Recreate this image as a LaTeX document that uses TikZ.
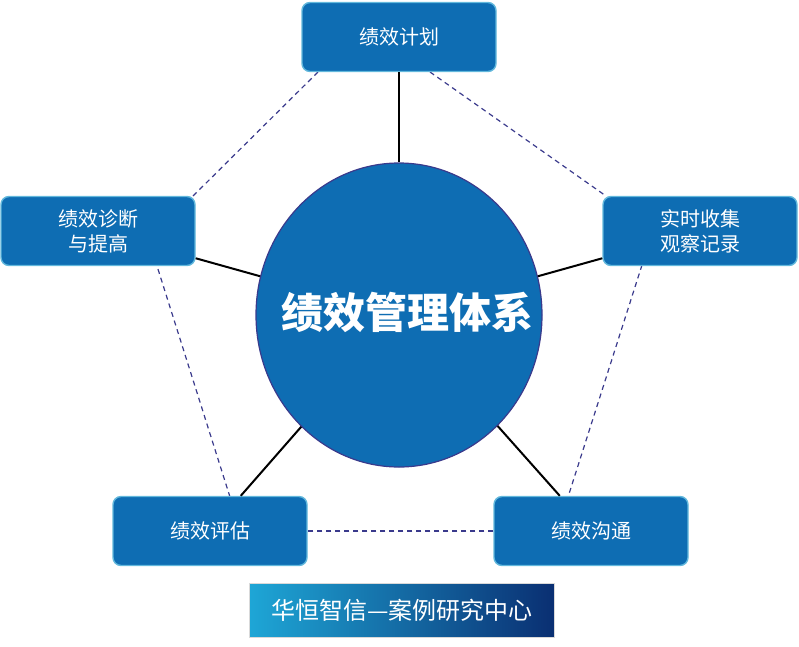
\documentclass[tikz,border=0pt]{standalone}
\usepackage{fontspec}
\newfontfamily\cjk{Noto Sans CJK SC}
\usetikzlibrary{shapes.geometric}
\definecolor{boxblue}{HTML}{0E6DB3}
\definecolor{boxedge}{HTML}{62B8DC}
\definecolor{dashc}{HTML}{3A3A8C}
\definecolor{banL}{HTML}{1EA6D6}
\definecolor{banR}{HTML}{0A2F72}
\begin{document}
\begin{tikzpicture}[x=1pt,y=-1pt,
 box/.style={draw=boxedge,line width=1.4pt,fill=boxblue,rounded corners=8pt,minimum width=194pt,minimum height=69pt,text=white,font=\cjk\fontsize{20}{25}\selectfont,align=center},
 spoke/.style={line width=2pt,black},
 dashline/.style={dash pattern=on 5pt off 4pt,dashc,line width=1.2pt}]
\useasboundingbox (0,0) rectangle (799,646);
\coordinate (p1) at (430,72);
\coordinate (p2) at (318,72);
\coordinate (s1) at (642,265);
\coordinate (g1) at (568,497);
\coordinate (e1) at (230,497);
\coordinate (d1) at (157,266);
\coordinate (d2) at (193,196);
\coordinate (s2) at (606,196);
\draw[dashline] (p1) -- (s2);
\draw[dashline] (p2) -- (d2);
\draw[dashline] (s1) -- (g1);
\draw[dashline] (e1) -- (d1);
\node[ellipse,draw=dashc,line width=1.2pt,fill=boxblue,inner sep=0pt,minimum width=286pt,minimum height=304pt] (c) at (399,315) {};
\node[text=white,font=\cjk\bfseries\fontsize{42}{48}\selectfont] (ct) at (407,312) {绩效管理体系};
\node[box] (p) at (399,37) {绩效计划};
\node[box] (s) at (700,231) {实时收集\\观察记录};
\node[box] (d) at (98,231) {绩效诊断\\与提高};
\node[box] (e) at (210,531) {绩效评估};
\node[box] (g) at (591,531) {绩效沟通};
\node[draw=white!70!gray,inner sep=0pt,minimum width=305pt,minimum height=54pt,left color=banL,right color=banR,text=white,font=\cjk\fontsize{24}{28}\selectfont] (b) at (402,610) {华恒智信—案例研究中心};
\draw[spoke] (p) -- (c);
\draw[spoke] (s) -- (c);
\draw[spoke] (d) -- (c);
\draw[spoke] (e) -- (c);
\draw[spoke] (g) -- (c);
\draw[dashline] (g.west) -- (e.east);
\end{tikzpicture}
\end{document}
